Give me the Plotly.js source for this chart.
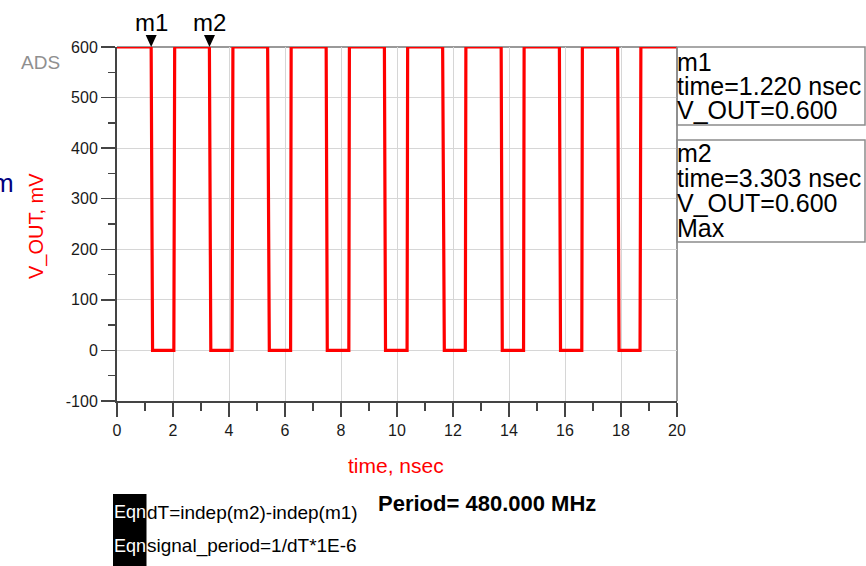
<!DOCTYPE html>
<html>
<head>
<meta charset="utf-8">
<script src="https://cdn.plot.ly/plotly-3.0.1.min.js"></script>
<style>
  html, body { margin: 0; padding: 0; background: #ffffff; }
  #chart { width: 866px; height: 566px; }
</style>
</head>
<body>
<div id="chart"></div>
<script>
// ---- data ----
const time_ns = [0, 1.22, 1.27, 2.03, 2.06, 3.30, 3.35, 4.11, 4.14, 5.38, 5.44, 6.20, 6.22,
  7.47, 7.51, 8.28, 8.30, 9.55, 9.59, 10.36, 10.38, 11.63, 11.69, 12.44, 12.46,
  13.72, 13.76, 14.52, 14.54, 15.80, 15.84, 16.60, 16.62, 17.88, 17.93, 18.68, 18.71, 20];
const v_out_mV = [600, 600, 0, 0, 600, 600, 0, 0, 600, 600, 0, 0, 600,
  600, 0, 0, 600, 600, 0, 0, 600, 600, 0, 0, 600,
  600, 0, 0, 600, 600, 0, 0, 600, 600, 0, 0, 600, 600];

const markerNames = ['m1', 'm2'];
const markerTimes = [1.220, 3.303];
const markerValues = [0.600, 0.600];
const markerExtra = ['', 'Max'];

const xTickVals = [0, 2, 4, 6, 8, 10, 12, 14, 16, 18, 20];
const xTickText = ['0', '2', '4', '6', '8', '10', '12', '14', '16', '18', '20'];
const yTickVals = [-100, 0, 100, 200, 300, 400, 500, 600];
const yTickText = ['-100', '0', '100', '200', '300', '400', '500', '600'];

const eqnLines = ['dT=indep(m2)-indep(m1)', 'signal_period=1/dT*1E-6'];
const periodText = 'Period= 480.000 MHz';

// ---- layout helpers (pixel -> paper) ----
const PL = 117, PR = 677, PT = 47, PB = 401;
const px = p => (p - PL) / (PR - PL);
const py = p => (PB - p) / (PB - PT);
const FONT = 'Liberation Sans, Arial, sans-serif';

const trace = {
  x: time_ns, y: v_out_mV, type: 'scatter', mode: 'lines',
  line: { color: '#ff0000', width: 3.2 },
  cliponaxis: false, hoverinfo: 'x+y', showlegend: false
};

const shapes = [];
const annotations = [];

// right border and top border of plot
shapes.push({ type: 'line', xref: 'paper', yref: 'paper', x0: 1, x1: 1, y0: 0, y1: 1,
  line: { color: '#999999', width: 2 }, layer: 'below' });
shapes.push({ type: 'line', xref: 'paper', yref: 'paper', x0: 0, x1: 1, y0: 1, y1: 1,
  line: { color: '#999999', width: 2 }, layer: 'below' });

// marker triangles and labels
markerTimes.forEach((t, i) => {
  shapes.push({ type: 'path', xref: 'x', yref: 'paper', xsizemode: 'pixel', ysizemode: 'pixel',
    xanchor: t, yanchor: 1, path: 'M-5.5,12 L5.5,12 L0,0 Z',
    fillcolor: '#000000', line: { color: '#000000', width: 0 }, layer: 'above' });
  annotations.push({ x: t, y: py(22), xref: 'x', yref: 'paper', text: markerNames[i],
    showarrow: false, xanchor: 'center', yanchor: 'middle',
    font: { family: FONT, size: 24, color: '#000000' } });
});

// marker readout boxes
const boxes = [[47, 125], [140, 242]];
const boxLineY = [[62, 86, 110], [153, 178, 203, 228]];
markerTimes.forEach((t, i) => {
  shapes.push({ type: 'rect', xref: 'paper', yref: 'paper', x0: px(677), x1: px(865),
    y0: py(boxes[i][1]), y1: py(boxes[i][0]),
    line: { color: '#8c8c8c', width: 1.5 }, fillcolor: 'rgba(0,0,0,0)' });
  const lines = [markerNames[i], 'time=' + t.toFixed(3) + ' nsec', 'V_OUT=' + markerValues[i].toFixed(3)];
  if (markerExtra[i]) lines.push(markerExtra[i]);
  lines.forEach((txt, j) => {
    annotations.push({ x: px(676), y: py(boxLineY[i][j]), xref: 'paper', yref: 'paper', text: txt,
      showarrow: false, xanchor: 'left', yanchor: 'middle', borderpad: 0,
      font: { family: FONT, size: 25, color: '#000000' } });
  });
});

// axis titles
annotations.push({ x: px(396), y: py(465), xref: 'paper', yref: 'paper', text: 'time, nsec',
  showarrow: false, xanchor: 'center', yanchor: 'middle',
  font: { family: FONT, size: 21, color: '#ff0000' } });
annotations.push({ x: px(36), y: py(226), xref: 'paper', yref: 'paper', text: 'V_OUT, mV',
  showarrow: false, textangle: -90, xanchor: 'center', yanchor: 'middle',
  font: { family: FONT, size: 20, color: '#ff0000' } });
annotations.push({ x: px(16), y: py(183), xref: 'paper', yref: 'paper', text: 'm',
  showarrow: false, xanchor: 'right', yanchor: 'middle',
  font: { family: FONT, size: 26, color: '#000080' } });
annotations.push({ x: px(40), y: py(62), xref: 'paper', yref: 'paper', text: 'ADS',
  showarrow: false, xanchor: 'center', yanchor: 'middle',
  font: { family: 'Liberation Sans Narrow, Liberation Sans, Arial, sans-serif', size: 19, color: '#8f8f8f' } });

// equations
shapes.push({ type: 'rect', xref: 'paper', yref: 'paper', x0: px(113), x1: px(146.5),
  y0: py(566), y1: py(494), fillcolor: '#000000', line: { width: 0 } });
const eqnY = [512, 546];
eqnLines.forEach((txt, j) => {
  annotations.push({ x: px(129.8), y: py(eqnY[j]), xref: 'paper', yref: 'paper', text: 'Eqn',
    showarrow: false, xanchor: 'center', yanchor: 'middle', borderpad: 0,
    font: { family: FONT, size: 18, color: '#ffffff' } });
  annotations.push({ x: px(146), y: py(eqnY[j]), xref: 'paper', yref: 'paper', text: txt,
    showarrow: false, xanchor: 'left', yanchor: 'middle', borderpad: 0,
    font: { family: FONT, size: 19, color: '#000000' } });
});
annotations.push({ x: px(376), y: py(503), xref: 'paper', yref: 'paper', text: '<b>' + periodText + '</b>',
  showarrow: false, xanchor: 'left', yanchor: 'middle',
  font: { family: FONT, size: 22, color: '#000000' } });

const layout = {
  width: 866, height: 566,
  margin: { l: PL, r: 866 - PR, t: PT, b: 566 - PB, pad: 0 },
  paper_bgcolor: '#ffffff', plot_bgcolor: '#ffffff',
  showlegend: false,
  font: { family: FONT, size: 16, color: '#1a1a1a' },
  xaxis: {
    range: [0, 20], tickvals: xTickVals, ticktext: xTickText, ticks: 'outside', ticklen: 14, tickwidth: 1.5,
    tickcolor: '#444444', showline: true, linecolor: '#444444', linewidth: 2,
    showgrid: true, gridcolor: '#d6d6d6', gridwidth: 1, zeroline: false,
    tickfont: { family: FONT, size: 16, color: '#1a1a1a' },
    minor: { dtick: 1, ticks: 'outside', ticklen: 8, tickwidth: 1.5, tickcolor: '#444444', showgrid: false },
    fixedrange: true
  },
  yaxis: {
    range: [-100, 600], tickvals: yTickVals, ticktext: yTickText, ticks: 'outside', ticklen: 14, tickwidth: 1.5,
    tickcolor: '#444444', showline: true, linecolor: '#444444', linewidth: 2,
    showgrid: true, gridcolor: '#d6d6d6', gridwidth: 1, zeroline: false,
    tickfont: { family: FONT, size: 16, color: '#1a1a1a' },
    minor: { dtick: 50, ticks: 'outside', ticklen: 7, tickwidth: 1.5, tickcolor: '#444444', showgrid: false },
    fixedrange: true
  },
  shapes: shapes,
  annotations: annotations
};

Plotly.newPlot('chart', [trace], layout, { displayModeBar: false, staticPlot: true });
</script>
</body>
</html>
